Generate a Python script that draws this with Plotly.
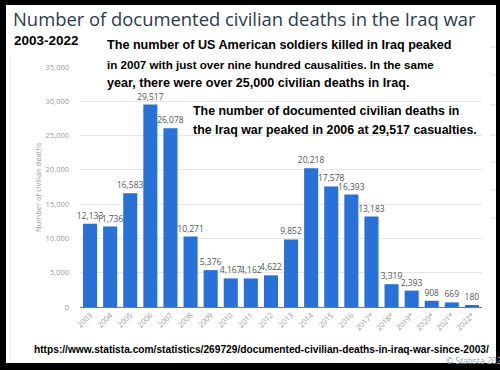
import plotly.graph_objects as go

years = ["2003", "2004", "2005", "2006", "2007", "2008", "2009", "2010", "2011", "2012",
         "2013", "2014", "2015", "2016", "2017*", "2018*", "2019*", "2020*", "2021*", "2022*"]
deaths = [12133, 11736, 16583, 29517, 26078, 10271, 5376, 4167, 4162, 4622,
          9852, 20218, 17578, 16393, 13183, 3319, 2393, 908, 669, 180]
y_ticks = [0, 5000, 10000, 15000, 20000, 25000, 30000, 35000]

title_text = "Number of documented civilian deaths in the Iraq war"
subtitle_text = "2003-2022"
note1 = ["The number of US American soldiers killed in Iraq peaked",
         "in 2007 with just over nine hundred causalities. In the same",
         "year, there were over 25,000 civilian deaths in Iraq."]
note2 = ["The number of documented civilian deaths in",
         "the Iraq war peaked in 2006 at 29,517 casualties."]
url_text = "https://www.statista.com/statistics/269729/documented-civilian-deaths-in-iraq-war-since-2003/"
credit_text = "© Statista 2022"

W, H = 500, 370
L, R, T, B = 80, 482, 67, 307


def px(x):
    return (x - L) / (R - L)


def py(y):
    return (B - y) / (B - T)


BOLD = "Liberation Sans, Arial, sans-serif"

fig = go.Figure()
fig.add_trace(go.Bar(
    x=years, y=deaths,
    marker=dict(color="#2771d8", line=dict(width=0)),
    text=[f"{v:,}" for v in deaths],
    textposition="outside",
    constraintext="none",
    textfont=dict(family="Open Sans, sans-serif", size=8.5, color="#555555"),
    cliponaxis=False,
    hoverinfo="x+y",
))

shapes = [
    dict(type="rect", xref="paper", yref="paper", x0=px(6), x1=px(496), y0=py(363), y1=py(5),
         fillcolor="white", line=dict(width=0), layer="below"),
    dict(type="line", xref="paper", yref="paper", x0=px(10), x1=px(10), y0=py(362), y1=py(55),
         line=dict(color="#ececec", width=1), layer="below"),
]
for yy in [47, 75, 105, 135, 162, 190, 218]:
    shapes.append(dict(type="line", xref="paper", yref="paper", x0=px(490), x1=px(496),
                       y0=py(yy), y1=py(yy), line=dict(color="#e2e2e2", width=1), layer="below"))

annotations = [
    dict(text=title_text, x=px(11), y=py(18), xanchor="left", yanchor="middle",
         font=dict(family="Open Sans, sans-serif", size=18.4, color="#2b3b4c")),
    dict(text="<b>" + subtitle_text + "</b>", x=px(12), y=py(41), xanchor="left", yanchor="middle",
         font=dict(family=BOLD, size=13.5, color="black")),
    dict(text="Number of civilian deaths", x=px(38), y=py(187), textangle=-90,
         xanchor="center", yanchor="middle",
         font=dict(family="Open Sans, sans-serif", size=7.5, color="#999999")),
    dict(text="<b>" + url_text + "</b>", x=px(32), y=py(349), xanchor="left", yanchor="middle",
         font=dict(family=BOLD, size=10.2, color="black")),
    dict(text=credit_text, x=px(444), y=py(360), xanchor="left", yanchor="middle",
         font=dict(family="Open Sans, sans-serif", size=8.5, color="#8aa0ba")),
]
note1_sizes = [12.6, 11.6, 12.6]
for i, line in enumerate(note1):
    annotations.append(dict(text="<b>" + line + "</b>", x=px(105), y=py(45 + 19 * i),
                            xanchor="left", yanchor="middle",
                            font=dict(family=BOLD, size=note1_sizes[i], color="black")))
for i, line in enumerate(note2):
    annotations.append(dict(text="<b>" + line + "</b>", x=px(191), y=py(111 + 19 * i),
                            xanchor="left", yanchor="middle",
                            font=dict(family=BOLD, size=12.4, color="black")))
for a in annotations:
    a.update(xref="paper", yref="paper", showarrow=False)

fig.update_layout(
    width=W, height=H,
    margin=dict(l=L, r=W - R, t=T, b=H - B, pad=0),
    paper_bgcolor="black",
    plot_bgcolor="white",
    bargap=0.3,
    showlegend=False,
    shapes=shapes,
    annotations=annotations,
    xaxis=dict(
        type="category", tickangle=-45, showgrid=False, showline=True,
        linecolor="#777777", linewidth=1.2, ticks="",
        tickfont=dict(family="Open Sans, sans-serif", size=7.5, color="#999999"),
    ),
    yaxis=dict(
        range=[0, 35000], tickvals=y_ticks, tickformat=",", showgrid=True,
        gridcolor="#e6e6e6", gridwidth=1, zeroline=False, showline=False, ticks="",
        ticklabelstandoff=10,
        tickfont=dict(family="Open Sans, sans-serif", size=7.5, color="#999999"),
    ),
)

fig.write_html("out.html", config={"displayModeBar": False},
               post_script="document.body.style.margin='0';")
